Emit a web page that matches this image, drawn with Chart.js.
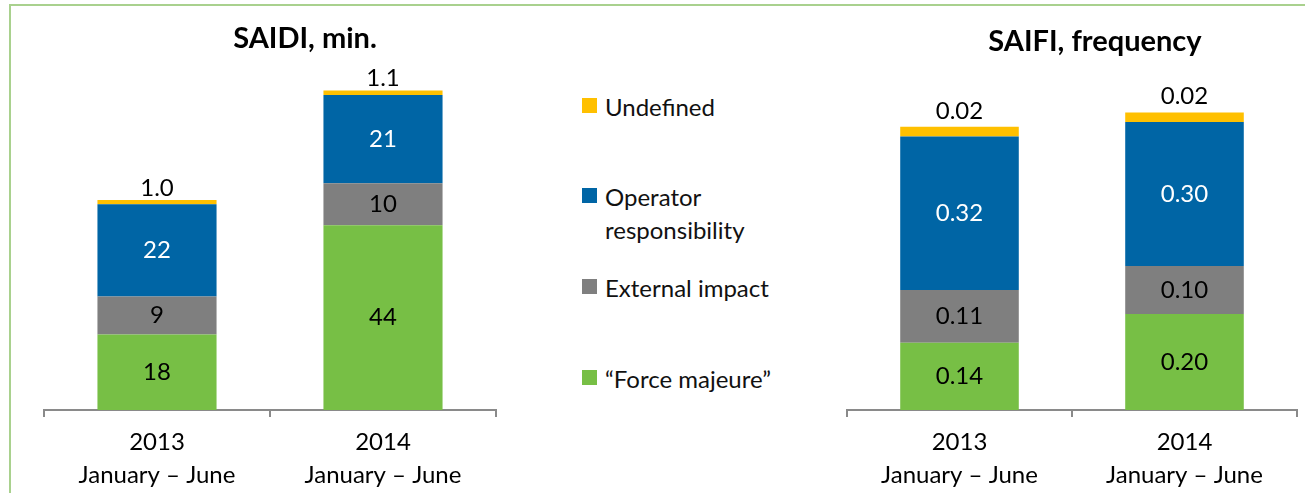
<!DOCTYPE html>
<html>
<head>
<meta charset="utf-8">
<script src="https://cdn.jsdelivr.net/npm/chart.js@4"></script>
<style>
    body { margin: 0; background: #fff; font-family: Lato, "Open Sans", sans-serif; }
    #wrap { position: relative; width: 1305px; height: 493px; overflow: hidden; }
    #frame { position: absolute; left: 9px; top: 4px; width: 1400px; height: 600px;
             border-top: 2px solid #a9d18e; border-left: 2px solid #a9d18e; }
    .box { position: absolute; top: 0; height: 493px; }
    .title { position: absolute; font-weight: bold; font-size: 29px; color: #000; transform: translate(-50%, -50%); white-space: nowrap; }
    #legend { position: absolute; left: 582px; top: 0; font-size: 24px; color: #111; }
    .item { position: absolute; white-space: nowrap; }
    .sw { position: absolute; left: 0; width: 15px; height: 15px; }
    .lbl { position: absolute; left: 23px; line-height: 33px; }
</style>
</head>
<body>
<div id="wrap">
    <div id="frame"></div>
    <div class="box" style="left:0;width:560px;"><canvas id="saidiChart" width="560" height="493"></canvas></div>
    <div class="box" style="left:800px;width:505px;"><canvas id="saifiChart" width="505" height="493"></canvas></div>
    <div class="title" style="left:305px;top:36px;">SAIDI, min.</div>
    <div class="title" style="left:1095px;top:39px;">SAIFI, frequency</div>
    <div id="legend"></div>
</div>
<script>
document.addEventListener('DOMContentLoaded', () => {

    // --- data ---
    const periods = [['2013', 'January \u2013 June'], ['2014', 'January \u2013 June']];
    const seriesNames = ['\u201cForce majeure\u201d', 'External impact', 'Operator responsibility', 'Undefined'];
    const seriesColors = ['#77bf45', '#7f7f7f', '#0065a5', '#ffc000'];

    const saidiForce = [18, 44];
    const saidiExternal = [9, 10];
    const saidiOperator = [22, 21];
    const saidiUndefined = [1.0, 1.1];

    const saifiForce = [0.14, 0.20];
    const saifiExternal = [0.11, 0.10];
    const saifiOperator = [0.32, 0.30];
    const saifiUndefined = [0.02, 0.02];

    // Legend (top to bottom: Undefined, Operator, External, Force majeure)
    const legendDiv = document.getElementById('legend');
    const legendRows = [
        { i: 3, top: 98, text: 'Undefined' },
        { i: 2, top: 188, text: 'Operator<br>responsibility' },
        { i: 1, top: 279, text: 'External impact' },
        { i: 0, top: 370, text: seriesNames[0] }
    ];
    legendRows.forEach(r => {
        legendDiv.innerHTML += `
            <div class="item" style="top:${r.top}px;">
                <div class="sw" style="background:${seriesColors[r.i]};"></div>
                <div class="lbl" style="top:-8px;">${r.text}</div>
            </div>`;
    });

    // value labels drawn from bar elements
    const valueLabels = {
        id: 'valueLabels',
        afterDatasetsDraw(chart, args, opts) {
            const ctx = chart.ctx;
            ctx.save();
            ctx.font = '24px Lato';
            ctx.textAlign = 'center';
            ctx.textBaseline = 'middle';
            chart.data.datasets.forEach((ds, di) => {
                const meta = chart.getDatasetMeta(di);
                meta.data.forEach((bar, j) => {
                    const v = ds.data[j];
                    const top = di === 3;
                    const txt = top ? v.toFixed(opts.topDigits) : v.toFixed(opts.digits);
                    ctx.fillStyle = di === 2 ? '#fff' : '#000';
                    const y = top ? bar.y - opts.topGap : (bar.y + bar.base) / 2;
                    ctx.fillText(txt, bar.x, y);
                });
            });
            ctx.restore();
        }
    };

    function makeChart(id, values, yMax, pad, digits, topDigits, topGap) {
        const ctx = document.getElementById(id).getContext('2d');
        return new Chart(ctx, {
            type: 'bar',
            data: {
                labels: periods,
                datasets: values.map((d, i) => ({
                    label: seriesNames[i],
                    data: d,
                    backgroundColor: seriesColors[i],
                    borderWidth: 0,
                    categoryPercentage: 1,
                    barPercentage: 0.527
                }))
            },
            options: {
                responsive: false,
                animation: false,
                layout: { padding: { left: pad.left, right: pad.right, top: 74, bottom: 0 } },
                plugins: {
                    legend: { display: false },
                    title: { display: false },
                    tooltip: { enabled: false },
                    valueLabels: { digits: digits, topDigits: topDigits, topGap: topGap }
                },
                scales: {
                    x: {
                        stacked: true,
                        afterFit: (axis) => { axis.height = 83; },
                        border: { display: true, color: '#8a8a8a', width: 2 },
                        grid: { drawOnChartArea: false, drawTicks: true, tickLength: 7, color: '#8a8a8a', lineWidth: 2 },
                        ticks: { color: '#000', padding: 9, font: { family: 'Lato', size: 24, lineHeight: 1.38 } }
                    },
                    y: { stacked: true, display: false, min: 0, max: yMax }
                }
            },
            plugins: [valueLabels]
        });
    }

    makeChart('saidiChart', [saidiForce, saidiExternal, saidiOperator, saidiUndefined], 80,
        { left: 44, right: 64 }, 0, 1, 12);
    makeChart('saifiChart', [saifiForce, saifiExternal, saifiOperator, saifiUndefined], 0.7,
        { left: 47, right: 8 }, 2, 2, 16);
});
</script>
</body>
</html>
